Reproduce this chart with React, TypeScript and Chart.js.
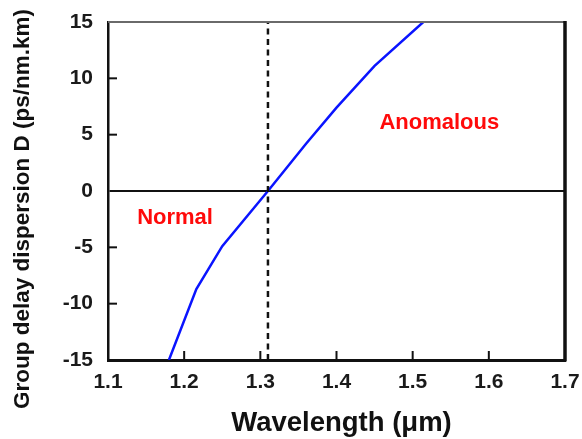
import React, { useEffect, useRef } from "react";
import { Chart, registerables } from "chart.js";

Chart.register(...registerables);

// Group delay dispersion of a standard single-mode fibre versus wavelength
const wavelength = [1.18, 1.216, 1.25, 1.31, 1.36, 1.4, 1.45, 1.514];
const dispersion = [-15, -8.7, -4.9, 0, 4.2, 7.4, 11.1, 15];

const zeroDispersionWavelength = 1.31;

const xTickValues = [1.1, 1.2, 1.3, 1.4, 1.5, 1.6, 1.7];
const yTickValues = [-15, -10, -5, 0, 5, 10, 15];

const regionLabels = ["Normal", "Anomalous"];
const regionLabelWavelength = [1.188, 1.535];
const regionLabelDispersion = [-2.4, 6.0];

const xTitle = "Wavelength (\u03bcm)";
const yTitle = "Group delay dispersion D (ps/nm.km)";

const FONT = '"Liberation Sans", Arial, sans-serif';
const INK = "#111111";

const framePlugin = {
  id: "frame",
  afterDatasetsDraw(chart: any) {
    const { ctx, chartArea: a } = chart;
    const x = chart.scales.x;
    const y = chart.scales.y;
    const seg = (x1: number, y1: number, x2: number, y2: number) => {
      ctx.beginPath();
      ctx.moveTo(x1, y1);
      ctx.lineTo(x2, y2);
      ctx.stroke();
    };
    ctx.save();

    // inward tick marks
    ctx.strokeStyle = INK;
    ctx.lineWidth = 2;
    for (const v of yTickValues) {
      if (v === y.min || v === y.max || v === 0) continue;
      const py = y.getPixelForValue(v);
      seg(a.left, py, a.left + 9, py);
    }
    for (const v of xTickValues) {
      if (v === x.min || v === x.max) continue;
      const px = x.getPixelForValue(v);
      seg(px, a.bottom, px, a.bottom - 9);
    }

    // top and right frame edges
    ctx.strokeStyle = "#6a6a6a";
    ctx.lineWidth = 2;
    seg(a.left, a.top, a.right, a.top);
    ctx.strokeStyle = INK;
    ctx.lineWidth = 3.5;
    seg(a.right, a.top - 1, a.right, a.bottom + 1.5);

    // region labels
    ctx.fillStyle = "#ff0a0a";
    ctx.font = `bold 22px ${FONT}`;
    ctx.textAlign = "center";
    ctx.textBaseline = "middle";
    regionLabels.forEach((t, i) => {
      ctx.fillText(
        t,
        x.getPixelForValue(regionLabelWavelength[i]),
        y.getPixelForValue(regionLabelDispersion[i])
      );
    });

    // axis titles
    ctx.fillStyle = INK;
    ctx.font = `bold 27.5px ${FONT}`;
    ctx.fillText(xTitle, (a.left + a.right) / 2 + 5, 423);
    ctx.save();
    ctx.translate(23, (a.top + a.bottom) / 2 + 18);
    ctx.rotate(-Math.PI / 2);
    ctx.font = `bold 22.5px ${FONT}`;
    ctx.fillText(yTitle, 0, 0);
    ctx.restore();

    ctx.restore();
  },
};

export default function App() {
  const canvasRef = useRef<HTMLCanvasElement | null>(null);

  useEffect(() => {
    const canvas = canvasRef.current;
    if (!canvas) return;

    const curve = wavelength.map((w, i) => ({ x: w, y: dispersion[i] }));
    const marker = [
      { x: zeroDispersionWavelength, y: yTickValues[0] },
      { x: zeroDispersionWavelength, y: yTickValues[yTickValues.length - 1] },
    ];

    const chart = new Chart(canvas, {
      type: "line",
      data: {
        datasets: [
          {
            data: marker,
            borderColor: INK,
            borderWidth: 2.5,
            borderDash: [6, 4.5],
            pointRadius: 0,
            tension: 0,
          },
          {
            data: curve,
            borderColor: "#0a14ff",
            borderWidth: 2.5,
            pointRadius: 0,
            tension: 0,
          },
        ],
      },
      options: {
        responsive: false,
        animation: false,
        events: [],
        layout: { padding: { top: 22, right: 17, left: 0, bottom: 0 } },
        plugins: {
          legend: { display: false },
          tooltip: { enabled: false },
        },
        scales: {
          x: {
            type: "linear",
            min: xTickValues[0],
            max: xTickValues[xTickValues.length - 1],
            afterBuildTicks: (s: any) => {
              s.ticks = xTickValues.map((v) => ({ value: v }));
            },
            afterFit: (s: any) => {
              s.height = 79;
              s.paddingLeft = 0;
              s.paddingRight = 0;
            },
            grid: { display: false, drawTicks: false },
            border: { display: true, color: INK, width: 3 },
            ticks: {
              padding: 10,
              color: "#1a1a1a",
              font: { family: FONT, size: 21, weight: "bold" },
              callback: (v: any) => Number(v).toFixed(1),
            },
          },
          y: {
            type: "linear",
            min: yTickValues[0],
            max: yTickValues[yTickValues.length - 1],
            afterBuildTicks: (s: any) => {
              s.ticks = yTickValues.map((v) => ({ value: v }));
            },
            afterFit: (s: any) => {
              s.width = 108;
              s.paddingTop = 0;
              s.paddingBottom = 0;
            },
            grid: {
              drawTicks: false,
              lineWidth: 2,
              color: (c: any) =>
                c.tick && c.tick.value === 0 ? INK : "rgba(0,0,0,0)",
            },
            border: { display: true, color: INK, width: 2.5 },
            ticks: {
              padding: 15,
              color: "#1a1a1a",
              font: { family: FONT, size: 21, weight: "bold" },
              callback: (v: any) => String(v),
            },
          },
        },
      },
      plugins: [framePlugin],
    });

    return () => chart.destroy();
  }, []);

  return (
    <div
      style={{
        position: "absolute",
        left: 0,
        top: 0,
        width: 582,
        height: 439,
        background: "#ffffff",
      }}
    >
      <canvas
        ref={canvasRef}
        width={582}
        height={439}
        style={{ display: "block" }}
      />
    </div>
  );
}
